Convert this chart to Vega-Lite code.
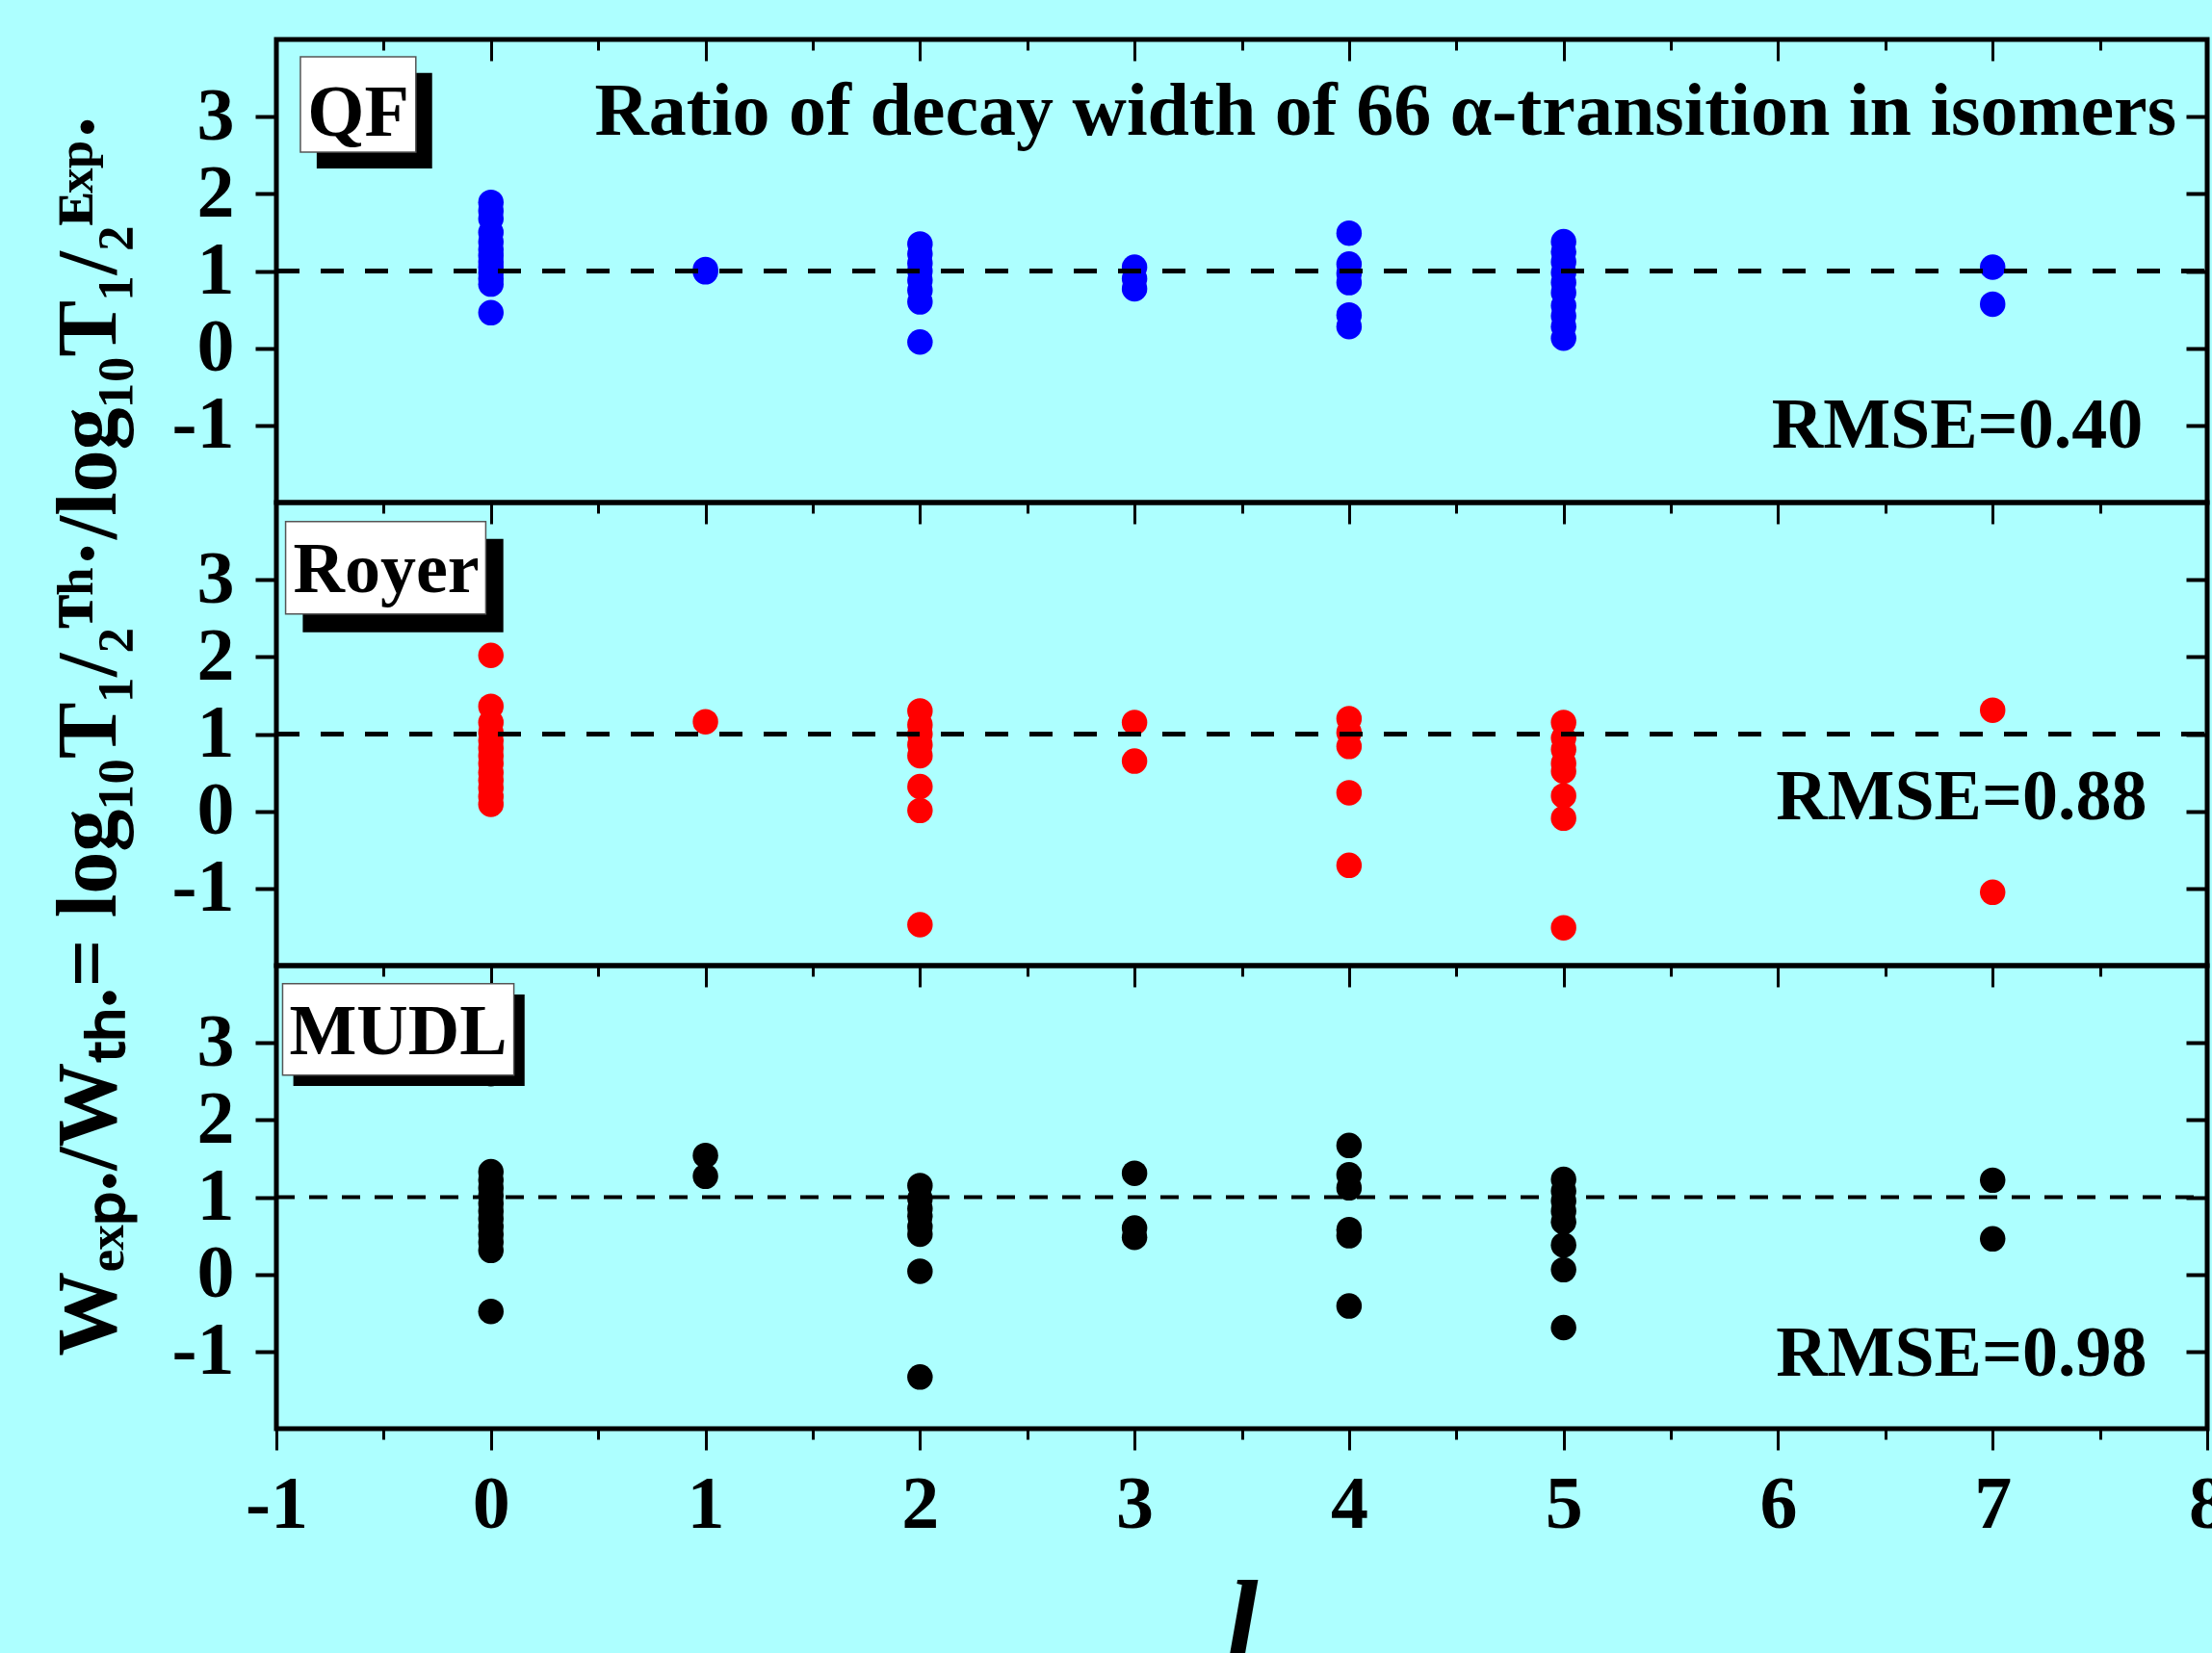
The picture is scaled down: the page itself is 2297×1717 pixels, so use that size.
{
  "$schema": "https://vega.github.io/schema/vega-lite/v6.json",
  "background": "#adffff",
  "padding": {"left": 46, "top": 37, "right": 0, "bottom": 0},
  "spacing": 0,
  "bounds": "flush",
  "config": {
    "view": {"stroke": "black", "strokeWidth": 5},
    "font": "Liberation Serif",
    "axis": {"grid": false, "domain": false, "labelFont": "Liberation Serif", "labelFontWeight": "bold", "labelFontSize": 78, "labelColor": "black", "tickColor": "black", "titleFont": "Liberation Serif", "titleFontWeight": "bold", "titleColor": "black", "labelFlush": false, "labelOverlap": false}
  },
  "datasets": {
    "points": [
      {"model": "QF", "l": 0, "ratio": 1.89}, {"model": "QF", "l": 0, "ratio": 1.78}, {"model": "QF", "l": 0, "ratio": 1.68}, {"model": "QF", "l": 0, "ratio": 1.50}, {"model": "QF", "l": 0, "ratio": 1.38}, {"model": "QF", "l": 0, "ratio": 1.28}, {"model": "QF", "l": 0, "ratio": 1.20}, {"model": "QF", "l": 0, "ratio": 1.12}, {"model": "QF", "l": 0, "ratio": 1.05}, {"model": "QF", "l": 0, "ratio": 0.98}, {"model": "QF", "l": 0, "ratio": 0.90}, {"model": "QF", "l": 0, "ratio": 0.83}, {"model": "QF", "l": 0, "ratio": 0.46},
      {"model": "QF", "l": 1, "ratio": 1.02}, {"model": "QF", "l": 1, "ratio": 0.99},
      {"model": "QF", "l": 2, "ratio": 1.35}, {"model": "QF", "l": 2, "ratio": 1.22}, {"model": "QF", "l": 2, "ratio": 1.10}, {"model": "QF", "l": 2, "ratio": 1.00}, {"model": "QF", "l": 2, "ratio": 0.88}, {"model": "QF", "l": 2, "ratio": 0.75}, {"model": "QF", "l": 2, "ratio": 0.60}, {"model": "QF", "l": 2, "ratio": 0.08},
      {"model": "QF", "l": 3, "ratio": 1.05}, {"model": "QF", "l": 3, "ratio": 0.90}, {"model": "QF", "l": 3, "ratio": 0.77},
      {"model": "QF", "l": 4, "ratio": 1.49}, {"model": "QF", "l": 4, "ratio": 1.09}, {"model": "QF", "l": 4, "ratio": 0.97}, {"model": "QF", "l": 4, "ratio": 0.85}, {"model": "QF", "l": 4, "ratio": 0.43}, {"model": "QF", "l": 4, "ratio": 0.28},
      {"model": "QF", "l": 5, "ratio": 1.38}, {"model": "QF", "l": 5, "ratio": 1.25}, {"model": "QF", "l": 5, "ratio": 1.12}, {"model": "QF", "l": 5, "ratio": 0.98}, {"model": "QF", "l": 5, "ratio": 0.85}, {"model": "QF", "l": 5, "ratio": 0.72}, {"model": "QF", "l": 5, "ratio": 0.55}, {"model": "QF", "l": 5, "ratio": 0.42}, {"model": "QF", "l": 5, "ratio": 0.28}, {"model": "QF", "l": 5, "ratio": 0.13},
      {"model": "QF", "l": 7, "ratio": 1.05}, {"model": "QF", "l": 7, "ratio": 0.57},
      {"model": "Royer", "l": 0, "ratio": 2.02}, {"model": "Royer", "l": 0, "ratio": 1.36}, {"model": "Royer", "l": 0, "ratio": 1.15}, {"model": "Royer", "l": 0, "ratio": 1.02}, {"model": "Royer", "l": 0, "ratio": 0.92}, {"model": "Royer", "l": 0, "ratio": 0.82}, {"model": "Royer", "l": 0, "ratio": 0.72}, {"model": "Royer", "l": 0, "ratio": 0.62}, {"model": "Royer", "l": 0, "ratio": 0.50}, {"model": "Royer", "l": 0, "ratio": 0.40}, {"model": "Royer", "l": 0, "ratio": 0.30}, {"model": "Royer", "l": 0, "ratio": 0.19}, {"model": "Royer", "l": 0, "ratio": 0.09},
      {"model": "Royer", "l": 1, "ratio": 1.16},
      {"model": "Royer", "l": 2, "ratio": 1.30}, {"model": "Royer", "l": 2, "ratio": 1.12}, {"model": "Royer", "l": 2, "ratio": 1.00}, {"model": "Royer", "l": 2, "ratio": 0.86}, {"model": "Royer", "l": 2, "ratio": 0.72}, {"model": "Royer", "l": 2, "ratio": 0.32}, {"model": "Royer", "l": 2, "ratio": 0.01}, {"model": "Royer", "l": 2, "ratio": -1.47},
      {"model": "Royer", "l": 3, "ratio": 1.15}, {"model": "Royer", "l": 3, "ratio": 0.65},
      {"model": "Royer", "l": 4, "ratio": 1.20}, {"model": "Royer", "l": 4, "ratio": 1.02}, {"model": "Royer", "l": 4, "ratio": 0.84}, {"model": "Royer", "l": 4, "ratio": 0.24}, {"model": "Royer", "l": 4, "ratio": -0.70},
      {"model": "Royer", "l": 5, "ratio": 1.15}, {"model": "Royer", "l": 5, "ratio": 0.95}, {"model": "Royer", "l": 5, "ratio": 0.80}, {"model": "Royer", "l": 5, "ratio": 0.62}, {"model": "Royer", "l": 5, "ratio": 0.52}, {"model": "Royer", "l": 5, "ratio": 0.20}, {"model": "Royer", "l": 5, "ratio": -0.09}, {"model": "Royer", "l": 5, "ratio": -1.51},
      {"model": "Royer", "l": 7, "ratio": 1.31}, {"model": "Royer", "l": 7, "ratio": -1.05},
      {"model": "MUDL", "l": 0, "ratio": 2.60}, {"model": "MUDL", "l": 0, "ratio": 1.33}, {"model": "MUDL", "l": 0, "ratio": 1.22}, {"model": "MUDL", "l": 0, "ratio": 1.12}, {"model": "MUDL", "l": 0, "ratio": 1.02}, {"model": "MUDL", "l": 0, "ratio": 0.92}, {"model": "MUDL", "l": 0, "ratio": 0.82}, {"model": "MUDL", "l": 0, "ratio": 0.72}, {"model": "MUDL", "l": 0, "ratio": 0.62}, {"model": "MUDL", "l": 0, "ratio": 0.52}, {"model": "MUDL", "l": 0, "ratio": 0.42}, {"model": "MUDL", "l": 0, "ratio": 0.31}, {"model": "MUDL", "l": 0, "ratio": -0.48},
      {"model": "MUDL", "l": 1, "ratio": 1.54}, {"model": "MUDL", "l": 1, "ratio": 1.27},
      {"model": "MUDL", "l": 2, "ratio": 1.15}, {"model": "MUDL", "l": 2, "ratio": 0.98}, {"model": "MUDL", "l": 2, "ratio": 0.85}, {"model": "MUDL", "l": 2, "ratio": 0.75}, {"model": "MUDL", "l": 2, "ratio": 0.62}, {"model": "MUDL", "l": 2, "ratio": 0.52}, {"model": "MUDL", "l": 2, "ratio": 0.04}, {"model": "MUDL", "l": 2, "ratio": -1.33},
      {"model": "MUDL", "l": 3, "ratio": 1.31}, {"model": "MUDL", "l": 3, "ratio": 0.60}, {"model": "MUDL", "l": 3, "ratio": 0.48},
      {"model": "MUDL", "l": 4, "ratio": 1.67}, {"model": "MUDL", "l": 4, "ratio": 1.29}, {"model": "MUDL", "l": 4, "ratio": 1.12}, {"model": "MUDL", "l": 4, "ratio": 0.58}, {"model": "MUDL", "l": 4, "ratio": 0.50}, {"model": "MUDL", "l": 4, "ratio": -0.41},
      {"model": "MUDL", "l": 5, "ratio": 1.23}, {"model": "MUDL", "l": 5, "ratio": 1.08}, {"model": "MUDL", "l": 5, "ratio": 0.95}, {"model": "MUDL", "l": 5, "ratio": 0.82}, {"model": "MUDL", "l": 5, "ratio": 0.68}, {"model": "MUDL", "l": 5, "ratio": 0.38}, {"model": "MUDL", "l": 5, "ratio": 0.06}, {"model": "MUDL", "l": 5, "ratio": -0.69},
      {"model": "MUDL", "l": 7, "ratio": 1.22}, {"model": "MUDL", "l": 7, "ratio": 0.46}
    ]
  },
  "vconcat": [
    {
      "width": 2005, "height": 481,
      "layer": [
        {
          "data": {"name": "points"},
          "transform": [{"filter": "datum.model === 'QF'"}],
          "mark": {"type": "circle", "size": 700, "opacity": 1, "color": "#0000ff"},
          "encoding": {
            "x": {"field": "l", "type": "quantitative", "scale": {"domain": [-1, 8], "nice": false, "zero": false}, "axis": null},
            "y": {"field": "ratio", "type": "quantitative", "scale": {"domain": [-2, 4], "nice": false, "zero": false},
                  "axis": {"orient": "left", "values": [-1, 0, 1, 2, 3], "tickSize": 22, "tickWidth": 4, "labelPadding": 22, "labelExpr": "toString(datum.value)", "title": null}}
          }
        },
        {
          "data": {"values": [{}]},
          "mark": {"type": "rule", "strokeDash": [24, 22], "strokeWidth": 5, "color": "black"},
          "encoding": {
            "x": {"datum": -1, "type": "quantitative", "scale": {"domain": [-1, 8], "nice": false, "zero": false},
                  "axis": {"orient": "top", "values": [-1, -0.5, 0, 0.5, 1, 1.5, 2, 2.5, 3, 3.5, 4, 4.5, 5, 5.5, 6, 6.5, 7, 7.5, 8], "tickSize": {"expr": "datum.value % 1 === 0 ? -22 : -11"}, "tickWidth": 3, "labels": false, "title": null}},
            "x2": {"datum": 8},
            "y": {"datum": 1, "type": "quantitative", "scale": {"domain": [-2, 4], "nice": false, "zero": false},
                  "axis": {"orient": "right", "values": [-1, 0, 1, 2, 3], "tickSize": -22, "tickWidth": 4, "labels": false, "title": null}}
          }
        },
        {
          "data": {"values": [{}]},
          "mark": {"type": "rect", "color": "black"},
          "encoding": {
            "x": {"datum": -0.812, "type": "quantitative", "axis": null}, "x2": {"datum": -0.274},
            "y": {"datum": 3.565, "type": "quantitative", "axis": null}, "y2": {"datum": 2.33}
          }
        },
        {
          "data": {"values": [{}]},
          "mark": {"type": "rect", "fill": "white", "stroke": "#555555", "strokeWidth": 1.5},
          "encoding": {
            "x": {"datum": -0.888, "type": "quantitative", "axis": null}, "x2": {"datum": -0.35},
            "y": {"datum": 3.775, "type": "quantitative", "axis": null}, "y2": {"datum": 2.54}
          }
        },
        {
          "data": {"values": [{}]},
          "mark": {"type": "text", "font": "Liberation Serif", "fontWeight": "bold", "fontSize": 76, "align": "center", "baseline": "middle", "color": "black"},
          "encoding": {
            "x": {"datum": -0.618, "type": "quantitative", "axis": null},
            "y": {"datum": 3.04, "type": "quantitative", "axis": null},
            "text": {"value": "QF"}
          }
        },
        {
          "data": {"values": [{}]},
          "mark": {"type": "text", "font": "Liberation Serif", "fontWeight": "bold", "fontSize": 78, "align": "center", "baseline": "middle", "color": "black"},
          "encoding": {
            "x": {"datum": 4.17, "type": "quantitative", "axis": null},
            "y": {"datum": 3.05, "type": "quantitative", "axis": null},
            "text": {"value": "Ratio of decay width of 66 α-transition in isomers"}
          }
        },
        {
          "data": {"values": [{}]},
          "mark": {"type": "text", "font": "Liberation Serif", "fontWeight": "bold", "fontSize": 74, "align": "right", "baseline": "middle", "color": "black"},
          "encoding": {
            "x": {"datum": 7.7, "type": "quantitative", "axis": null},
            "y": {"datum": -1.02, "type": "quantitative", "axis": null},
            "text": {"value": "RMSE=0.40"}
          }
        }
      ],
      "resolve": {"axis": {"x": "independent", "y": "independent"}}
    },
    {
      "width": 2005, "height": 481,
      "layer": [
        {
          "data": {"name": "points"},
          "transform": [{"filter": "datum.model === 'Royer'"}],
          "mark": {"type": "circle", "size": 700, "opacity": 1, "color": "#ff0000"},
          "encoding": {
            "x": {"field": "l", "type": "quantitative", "scale": {"domain": [-1, 8], "nice": false, "zero": false}, "axis": null},
            "y": {"field": "ratio", "type": "quantitative", "scale": {"domain": [-2, 4], "nice": false, "zero": false},
                  "axis": {"orient": "left", "values": [-1, 0, 1, 2, 3], "tickSize": 22, "tickWidth": 4, "labelPadding": 22, "labelExpr": "toString(datum.value)",
                           "title": "Wₑₓₚ./Wₜₕ.= log₁₀T₁/₂ᵀʰ·/log₁₀T₁/₂ᴱˣᵖ·", "titleFontSize": 88, "titlePadding": 41}}
          }
        },
        {
          "data": {"values": [{}]},
          "mark": {"type": "rule", "strokeDash": [24, 22], "strokeWidth": 5, "color": "black"},
          "encoding": {
            "x": {"datum": -1, "type": "quantitative", "scale": {"domain": [-1, 8], "nice": false, "zero": false},
                  "axis": {"orient": "top", "values": [-1, -0.5, 0, 0.5, 1, 1.5, 2, 2.5, 3, 3.5, 4, 4.5, 5, 5.5, 6, 6.5, 7, 7.5, 8], "tickSize": {"expr": "datum.value % 1 === 0 ? -22 : -11"}, "tickWidth": 3, "labels": false, "title": null}},
            "x2": {"datum": 8},
            "y": {"datum": 1, "type": "quantitative", "scale": {"domain": [-2, 4], "nice": false, "zero": false},
                  "axis": {"orient": "right", "values": [-1, 0, 1, 2, 3], "tickSize": -22, "tickWidth": 4, "labels": false, "title": null}}
          }
        },
        {
          "data": {"values": [{}]},
          "mark": {"type": "rect", "color": "black"},
          "encoding": {
            "x": {"datum": -0.877, "type": "quantitative", "axis": null}, "x2": {"datum": 0.058},
            "y": {"datum": 3.53, "type": "quantitative", "axis": null}, "y2": {"datum": 2.32}
          }
        },
        {
          "data": {"values": [{}]},
          "mark": {"type": "rect", "fill": "white", "stroke": "#555555", "strokeWidth": 1.5},
          "encoding": {
            "x": {"datum": -0.957, "type": "quantitative", "axis": null}, "x2": {"datum": -0.024},
            "y": {"datum": 3.754, "type": "quantitative", "axis": null}, "y2": {"datum": 2.557}
          }
        },
        {
          "data": {"values": [{}]},
          "mark": {"type": "text", "font": "Liberation Serif", "fontWeight": "bold", "fontSize": 74, "align": "center", "baseline": "middle", "color": "black"},
          "encoding": {
            "x": {"datum": -0.488, "type": "quantitative", "axis": null},
            "y": {"datum": 3.12, "type": "quantitative", "axis": null},
            "text": {"value": "Royer"}
          }
        },
        {
          "data": {"values": [{}]},
          "mark": {"type": "text", "font": "Liberation Serif", "fontWeight": "bold", "fontSize": 74, "align": "right", "baseline": "middle", "color": "black"},
          "encoding": {
            "x": {"datum": 7.72, "type": "quantitative", "axis": null},
            "y": {"datum": 0.17, "type": "quantitative", "axis": null},
            "text": {"value": "RMSE=0.88"}
          }
        }
      ],
      "resolve": {"axis": {"x": "independent", "y": "independent"}}
    },
    {
      "width": 2005, "height": 481,
      "layer": [
        {
          "data": {"name": "points"},
          "transform": [{"filter": "datum.model === 'MUDL'"}],
          "mark": {"type": "circle", "size": 700, "opacity": 1, "color": "#000000"},
          "encoding": {
            "x": {"field": "l", "type": "quantitative", "scale": {"domain": [-1, 8], "nice": false, "zero": false},
                  "axis": {"orient": "bottom", "values": [-1, -0.5, 0, 0.5, 1, 1.5, 2, 2.5, 3, 3.5, 4, 4.5, 5, 5.5, 6, 6.5, 7, 7.5, 8], "tickSize": {"expr": "datum.value % 1 === 0 ? 22 : 11"}, "tickWidth": 3, "labelPadding": 18, "labelExpr": "datum.value % 1 === 0 ? toString(datum.value) : ''",
                           "title": "l", "titleFontSize": 120, "titleFontStyle": "italic", "titlePadding": 27}},
            "y": {"field": "ratio", "type": "quantitative", "scale": {"domain": [-2, 4], "nice": false, "zero": false},
                  "axis": {"orient": "left", "values": [-1, 0, 1, 2, 3], "tickSize": 22, "tickWidth": 4, "labelPadding": 22, "labelExpr": "toString(datum.value)", "title": null}}
          }
        },
        {
          "data": {"values": [{}]},
          "mark": {"type": "rule", "strokeDash": [19, 15], "strokeWidth": 4, "color": "black"},
          "encoding": {
            "x": {"datum": -1, "type": "quantitative", "scale": {"domain": [-1, 8], "nice": false, "zero": false},
                  "axis": {"orient": "top", "values": [-1, -0.5, 0, 0.5, 1, 1.5, 2, 2.5, 3, 3.5, 4, 4.5, 5, 5.5, 6, 6.5, 7, 7.5, 8], "tickSize": {"expr": "datum.value % 1 === 0 ? -22 : -11"}, "tickWidth": 3, "labels": false, "title": null}},
            "x2": {"datum": 8},
            "y": {"datum": 1, "type": "quantitative", "scale": {"domain": [-2, 4], "nice": false, "zero": false},
                  "axis": {"orient": "right", "values": [-1, 0, 1, 2, 3], "tickSize": -22, "tickWidth": 4, "labels": false, "title": null}}
          }
        },
        {
          "data": {"values": [{}]},
          "mark": {"type": "rect", "color": "black"},
          "encoding": {
            "x": {"datum": -0.921, "type": "quantitative", "axis": null}, "x2": {"datum": 0.157},
            "y": {"datum": 3.627, "type": "quantitative", "axis": null}, "y2": {"datum": 2.442}
          }
        },
        {
          "data": {"values": [{}]},
          "mark": {"type": "rect", "fill": "white", "stroke": "#555555", "strokeWidth": 1.5},
          "encoding": {
            "x": {"datum": -0.971, "type": "quantitative", "axis": null}, "x2": {"datum": 0.107},
            "y": {"datum": 3.767, "type": "quantitative", "axis": null}, "y2": {"datum": 2.582}
          }
        },
        {
          "data": {"values": [{}]},
          "mark": {"type": "text", "font": "Liberation Serif", "fontWeight": "bold", "fontSize": 74, "align": "center", "baseline": "middle", "color": "black"},
          "encoding": {
            "x": {"datum": -0.432, "type": "quantitative", "axis": null},
            "y": {"datum": 3.13, "type": "quantitative", "axis": null},
            "text": {"value": "MUDL"}
          }
        },
        {
          "data": {"values": [{}]},
          "mark": {"type": "text", "font": "Liberation Serif", "fontWeight": "bold", "fontSize": 74, "align": "right", "baseline": "middle", "color": "black"},
          "encoding": {
            "x": {"datum": 7.72, "type": "quantitative", "axis": null},
            "y": {"datum": -1.04, "type": "quantitative", "axis": null},
            "text": {"value": "RMSE=0.98"}
          }
        }
      ],
      "resolve": {"axis": {"x": "independent", "y": "independent"}}
    }
  ]
}
